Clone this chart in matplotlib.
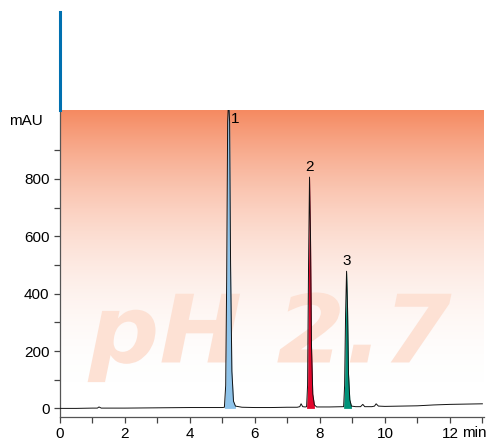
import numpy as np
import matplotlib.pyplot as plt
from matplotlib.lines import Line2D
from matplotlib.colors import LinearSegmentedColormap
from matplotlib.textpath import TextPath
from matplotlib.patches import PathPatch
from matplotlib.font_manager import FontProperties
from matplotlib.transforms import Affine2D

# ==============================
# DATA
# ==============================
time = [0.0, 0.5, 1.0, 1.15, 1.2, 1.27, 1.5, 2.0, 3.0, 4.0, 4.5, 5.0,
        5.06, 5.10, 5.13, 5.16, 5.19, 5.22, 5.25, 5.29, 5.34, 5.4, 5.6, 6.0, 6.5, 7.0,
        7.3, 7.38, 7.42, 7.47, 7.55,
        7.59, 7.62, 7.65, 7.68, 7.71, 7.74, 7.78, 7.83, 7.9, 8.3,
        8.73, 8.76, 8.79, 8.82, 8.85, 8.88, 8.92, 8.97, 9.1,
        9.25, 9.32, 9.38, 9.6, 9.68, 9.73, 9.8, 10.0, 11.0, 11.5, 12.0, 13.0]
signal = [0, 0, 1, 1, 5, 1, 1, 1, 2, 3, 3, 3,
          4, 80, 450, 1000, 1080, 1000, 500, 130, 25, 8, 4, 3, 3, 4,
          4, 6, 16, 6, 5,
          6, 80, 500, 806, 600, 220, 50, 12, 5, 5,
          6, 80, 330, 478, 350, 120, 30, 8, 6,
          6, 14, 6, 6, 8, 16, 8, 7, 9, 12, 14, 16]

peak_labels = ["1", "2", "3"]
peak_rt = [5.19, 7.68, 8.82]
peak_top = [1080, 806, 478]
peak_start = [5.05, 7.58, 8.72]
peak_end = [5.40, 7.85, 8.98]
peak_colors = ["#8ec3ea", "#e2062c", "#00937a"]

x_ticks = [0, 2, 4, 6, 8, 10, 12]
y_ticks = [0, 200, 400, 600, 800]

# ==============================
# CHART
# ==============================
plt.rcParams['font.family'] = ['Liberation Sans', 'DejaVu Sans']

fig = plt.figure(figsize=(4.89, 4.42), dpi=100)
ax = fig.add_axes([60 / 489, 25 / 442, 424 / 489, 307 / 442])

xmin, xmax = 0, 13.05
ymin, ymax = -30, 1040

# orange gradient background
vals = np.linspace(ymin, ymax, 400)
alpha = np.clip(vals / ymax, 0, 1) ** 2.3
cmap = LinearSegmentedColormap.from_list("bg", ["#ffffff", "#f58a61"])
ax.imshow(alpha[:, None], extent=[xmin, xmax, ymin, ymax], origin="lower",
          aspect="auto", cmap=cmap, vmin=0, vmax=1, zorder=0)

# watermark, stretched to the width it has in the picture
fp = FontProperties(family="DejaVu Sans", weight="bold", style="oblique")
tp = TextPath((0, 0), "pH 2.7", size=1, prop=fp)
ext = tp.get_extents()
sy = 240 / 0.73
sx = 11.2 / ext.width
tr = Affine2D().translate(-ext.x0, 0).scale(sx, sy).translate(0.85, 160)
ax.add_patch(PathPatch(tr.transform_path(tp), facecolor="#fde1d4", lw=0, zorder=1))

t = np.array(time)
s = np.array(signal)
for a, b, c in zip(peak_start, peak_end, peak_colors):
    m = (t >= a) & (t <= b)
    ax.fill_between(t[m], 0, s[m], color=c, lw=0, zorder=2)
ax.plot(t, s, color="#111111", lw=0.7, zorder=3)

for lab, rt, top in zip(peak_labels, peak_rt, peak_top):
    if top > ymax:
        ax.text(rt + 0.07, ymax - 8, lab, fontsize=11, ha="left", va="top", zorder=4)
    else:
        ax.text(rt, top + 12, lab, fontsize=11, ha="center", va="bottom", zorder=4)

ax.set_xlim(xmin, xmax)
ax.set_ylim(ymin, ymax)
ax.set_xticks(x_ticks)
ax.set_xticks(np.arange(0, 14, 1), minor=True)
ax.set_yticks(y_ticks)
ax.set_yticks(np.arange(0, 1000, 100), minor=True)
ax.tick_params(axis="both", which="both", direction="out", colors="#444444",
               labelcolor="black", labelsize=11, width=0.9, length=4)
for sp in ["top", "right"]:
    ax.spines[sp].set_visible(False)
for sp in ["left", "bottom"]:
    ax.spines[sp].set_color("#555555")
    ax.spines[sp].set_linewidth(0.9)

ax.annotate("min", xy=(12.38, 0), xycoords=("data", "axes fraction"),
            xytext=(0, -6.4), textcoords="offset points",
            fontsize=11, ha="left", va="top")
ax.text(-0.04, 1000, "mAU", fontsize=11, ha="right", va="center",
        transform=ax.get_yaxis_transform())

# blue bar above the plot
fig.add_artist(Line2D([60 / 489, 60 / 489], [332 / 442, 430 / 442],
                      color="#0070b0", lw=2.2))

fig.savefig("out.png", dpi=100)
